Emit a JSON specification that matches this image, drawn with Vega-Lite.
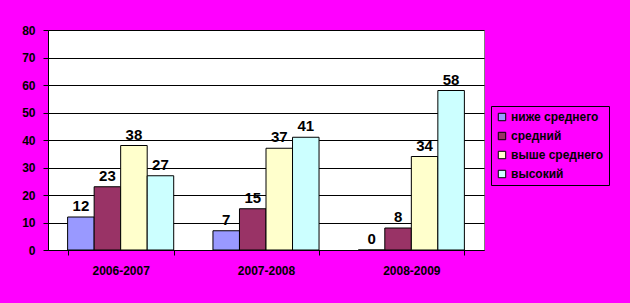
{
  "$schema": "https://vega.github.io/schema/vega-lite/v6.json",
  "autosize": "none",
  "width": 436,
  "height": 220,
  "padding": {"left": 48, "top": 30, "right": 146, "bottom": 53},
  "background": "#FF00FF",
  "config": {
    "font": "Liberation Sans",
    "view": {"fill": "white", "stroke": "#808080", "strokeWidth": 1}
  },
  "data": {
    "values": [
      {"year": "2006-2007", "level": "ниже среднего", "value": 12},
      {"year": "2006-2007", "level": "средний", "value": 23},
      {"year": "2006-2007", "level": "выше среднего", "value": 38},
      {"year": "2006-2007", "level": "высокий", "value": 27},
      {"year": "2007-2008", "level": "ниже среднего", "value": 7},
      {"year": "2007-2008", "level": "средний", "value": 15},
      {"year": "2007-2008", "level": "выше среднего", "value": 37},
      {"year": "2007-2008", "level": "высокий", "value": 41},
      {"year": "2008-2009", "level": "ниже среднего", "value": 0},
      {"year": "2008-2009", "level": "средний", "value": 8},
      {"year": "2008-2009", "level": "выше среднего", "value": 34},
      {"year": "2008-2009", "level": "высокий", "value": 58}
    ]
  },
  "encoding": {
    "x": {
      "field": "year", "type": "nominal",
      "scale": {"paddingInner": 0.27, "paddingOuter": 0.135},
      "axis": {
        "title": null, "labelAngle": 0, "labelFont": "Liberation Sans", "labelFontWeight": "bold",
        "labelFontSize": 12, "labelColor": "black", "labelPadding": 10,
        "tickBand": "extent", "tickSize": 5, "tickColor": "black", "domainColor": "black"
      }
    },
    "xOffset": {"field": "level", "type": "nominal", "sort": ["ниже среднего", "средний", "выше среднего", "высокий"]},
    "y": {
      "field": "value", "type": "quantitative",
      "scale": {"domain": [0, 80]},
      "axis": {
        "title": null, "values": [0, 10, 20, 30, 40, 50, 60, 70, 80],
        "labelFontWeight": "bold", "labelFontSize": 12, "labelColor": "black", "labelPadding": 8,
        "tickSize": 5, "tickColor": "black", "domainColor": "black",
        "gridColor": "black", "gridOpacity": 1
      }
    }
  },
  "layer": [
    {
      "mark": {"type": "bar", "stroke": "black", "strokeWidth": 1},
      "encoding": {
        "color": {
          "field": "level", "type": "nominal",
          "sort": ["ниже среднего", "средний", "выше среднего", "высокий"],
          "scale": {"domain": ["ниже среднего", "средний", "выше среднего", "высокий"], "range": ["#9999FF", "#993366", "#FFFFCC", "#CCFFFF"]},
          "legend": {
            "title": null, "orient": "none", "legendX": 443, "legendY": 76,
            "symbolType": "square", "symbolSize": 55, "symbolStrokeColor": "black", "symbolStrokeWidth": 1,
            "labelFontWeight": "bold", "labelFontSize": 12, "labelColor": "black",
            "rowPadding": 7, "padding": 5, "strokeColor": "black", "fillColor": "#FF00FF",
            "labelOffset": 3
          }
        }
      }
    },
    {
      "mark": {"type": "text", "dy": -11, "fontWeight": "bold", "fontSize": 15, "color": "black"},
      "encoding": {"text": {"field": "value", "type": "quantitative"}}
    }
  ]
}
